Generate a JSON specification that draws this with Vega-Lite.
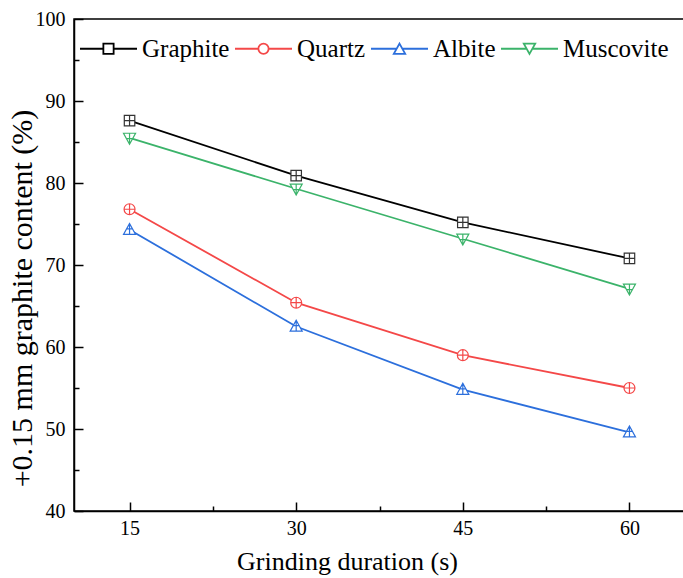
{
  "$schema": "https://vega.github.io/schema/vega-lite/v6.json",
  "width": 611,
  "height": 492,
  "autosize": "none",
  "padding": {"left": 74, "top": 19, "right": 0, "bottom": 67},
  "background": "white",
  "config": {
    "view": {"stroke": "black", "strokeWidth": 1.5},
    "font": "Liberation Serif",
    "axis": {
      "labelFont": "Liberation Serif",
      "titleFont": "Liberation Serif",
      "labelColor": "black",
      "titleColor": "black",
      "domainColor": "black",
      "tickColor": "black",
      "domainWidth": 1.5,
      "tickWidth": 1.5,
      "grid": false,
      "titleFontWeight": "normal",
      "labelFontSize": 20
    },
    "legend": {"labelFont": "Liberation Serif"}
  },
  "data": {
    "values": [
      {"t": 15, "v": 87.6, "s": "Graphite"},
      {"t": 30, "v": 80.9, "s": "Graphite"},
      {"t": 45, "v": 75.2, "s": "Graphite"},
      {"t": 60, "v": 70.8, "s": "Graphite"},
      {"t": 15, "v": 76.8, "s": "Quartz"},
      {"t": 30, "v": 65.4, "s": "Quartz"},
      {"t": 45, "v": 59.0, "s": "Quartz"},
      {"t": 60, "v": 55.0, "s": "Quartz"},
      {"t": 15, "v": 74.3, "s": "Albite"},
      {"t": 30, "v": 62.5, "s": "Albite"},
      {"t": 45, "v": 54.8, "s": "Albite"},
      {"t": 60, "v": 49.6, "s": "Albite"},
      {"t": 15, "v": 85.5, "s": "Muscovite"},
      {"t": 30, "v": 79.3, "s": "Muscovite"},
      {"t": 45, "v": 73.2, "s": "Muscovite"},
      {"t": 60, "v": 67.1, "s": "Muscovite"}
    ]
  },
  "encoding": {
    "x": {
      "field": "t",
      "type": "quantitative",
      "scale": {"domain": [10, 65], "nice": false, "zero": false},
      "axis": {
        "title": "Grinding duration (s)",
        "titleFontSize": 26,
        "titleX": 273,
        "values": [15, 22.5, 30, 37.5, 45, 52.5, 60],
        "labelExpr": "datum.value % 15 === 0 ? datum.label : ''",
        "tickSize": {"condition": {"test": "datum.value % 15 === 0", "value": -9}, "value": -5},
        "labelPadding": 16,
        "titlePadding": 10,
        "labelFlush": false
      }
    },
    "y": {
      "field": "v",
      "type": "quantitative",
      "scale": {"domain": [40, 100], "nice": false, "zero": false},
      "axis": {
        "title": "+0.15 mm graphite content (%)",
        "titleFontSize": 30,
        "titleY": 279,
        "values": [40, 45, 50, 55, 60, 65, 70, 75, 80, 85, 90, 95, 100],
        "labelExpr": "datum.value % 10 === 0 ? datum.label : ''",
        "tickSize": {"condition": {"test": "datum.value % 10 === 0", "value": -9}, "value": -5},
        "labelPadding": 18,
        "titlePadding": -2,
        "labelFlush": false
      }
    }
  },
  "layer": [
    {
      "mark": {"type": "line", "strokeWidth": 1.8},
      "encoding": {
        "color": {
          "field": "s",
          "type": "nominal",
          "scale": {
            "domain": ["Graphite", "Quartz", "Albite", "Muscovite"],
            "range": ["#000000", "#F44848", "#2C6FDC", "#3BB36A"]
          },
          "legend": {
            "title": null,
            "orient": "none",
            "direction": "horizontal",
            "legendX": 22,
            "legendY": 17,
            "padding": 0,
            "labelFont": "Liberation Serif",
            "labelFontSize": 25,
            "labelColor": "black",
            "labelOffset": 21,
            "columnPadding": 1,
            "symbolSize": 130,
            "symbolStrokeWidth": 1.8,
            "symbolFillColor": "white",
            "symbolType": "M-5,0H-0.9M0.9,0H5M-0.9,-0.9H0.9V0.9H-0.9Z",
            "encode": {
              "labels": {
                "update": {
                  "font": {"value": "Liberation Serif"},
                  "fontSize": {"value": 25}
                }
              },
              "symbols": {
                "update": {
                  "shape": {"signal": "datum.value === 'Graphite' ? 'M-5,0H-0.9M0.9,0H5M-0.9,-0.9H0.9V0.9H-0.9Z' : datum.value === 'Quartz' ? 'M-5,0H-0.9M0.9,0H5M0.9,0A0.9,0.9,0,1,1,-0.9,0A0.9,0.9,0,1,1,0.9,0Z' : datum.value === 'Albite' ? 'M-5,0H-0.5M0.5,0H5M0,-0.9L1,0.9H-1Z' : 'M-5,0H-0.5M0.5,0H5M0,0.9L1,-0.9H-1Z'"},
                  "fill": {"value": "white"},
                  "strokeWidth": {"value": 1.8}
                }
              }
            }
          }
        }
      }
    },
    {
      "transform": [{"filter": "datum.s === 'Graphite'"}],
      "mark": {"type": "point", "fill": "white", "stroke": "#333333", "strokeWidth": 1.2, "size": 110, "opacity": 1,
               "shape": "M-1,-1H1V1H-1Z M0,-1V1 M-1,0H1"}
    },
    {
      "transform": [{"filter": "datum.s === 'Quartz'"}],
      "mark": {"type": "point", "fill": "white", "stroke": "#F44848", "strokeWidth": 1.2, "size": 120, "opacity": 1,
               "shape": "M1,0A1,1,0,1,1,-1,0A1,1,0,1,1,1,0Z M0,-1V1 M-1,0H1"}
    },
    {
      "transform": [{"filter": "datum.s === 'Albite'"}],
      "mark": {"type": "point", "fill": "white", "stroke": "#2C6FDC", "strokeWidth": 1.2, "size": 120, "opacity": 1,
               "shape": "M0,-1.15L1.1,0.85H-1.1Z M0,-1.15V0.85 M-0.55,-0.15H0.55"}
    },
    {
      "transform": [{"filter": "datum.s === 'Muscovite'"}],
      "mark": {"type": "point", "fill": "white", "stroke": "#3BB36A", "strokeWidth": 1.2, "size": 120, "opacity": 1,
               "shape": "M0,1.15L1.1,-0.85H-1.1Z M0,1.15V-0.85 M-0.55,0.15H0.55"}
    }
  ]
}
